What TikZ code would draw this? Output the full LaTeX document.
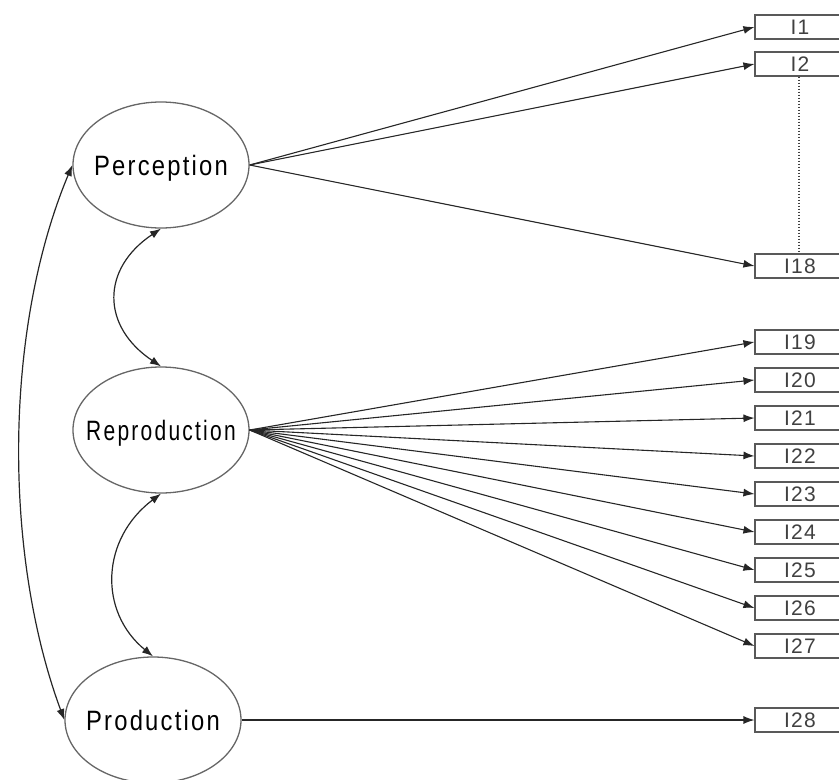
\documentclass[tikz,border=0pt]{standalone}
\usepackage{fontspec}
\setmainfont{Liberation Sans}
\newfontfamily\ellfont[FakeStretch=0.85,LetterSpace=8]{Liberation Sans}
\newfontfamily\ellfontn[FakeStretch=0.75,LetterSpace=8]{Liberation Sans}
\newfontfamily\boxfont[LetterSpace=6]{Liberation Sans}
\usetikzlibrary{arrows.meta,shapes.geometric}
\begin{document}
\begin{tikzpicture}[x=1pt,y=-1pt,
  latent/.style={ellipse, draw=black!60, line width=1.3pt, minimum width=176pt, minimum height=126pt,
    inner sep=0pt, text depth=0pt, text=black, font=\ellfont\fontsize{28}{28}\selectfont},
  item/.style={rectangle, draw=black!65, line width=1.1pt, minimum width=90pt, minimum height=24pt,
    inner sep=0pt, text depth=0pt, text=black!75, font=\boxfont\fontsize{21}{21}\selectfont},
  reg/.style={draw=black!85, line width=1.1pt, -{Latex[length=11pt,width=8pt]}},
  covar/.style={draw=black!85, line width=1.2pt, {Latex[length=11pt,width=8pt]}-{Latex[length=11pt,width=8pt]}},
  dotline/.style={draw=black!75, line width=1.1pt, dash pattern=on 1.5pt off 1.5pt}
]
\useasboundingbox (0,0) rectangle (839,780);
\clip (0,0) rectangle (839,780);

% latent variables
\node[latent] (P) at (161,165) {\makebox[0pt]{Perception}};
\node[latent, font=\ellfontn\fontsize{28}{28}\selectfont] (R) at (161,430) {\makebox[0pt]{Reproduction}};
\node[latent] (D) at (153,720) {\makebox[0pt]{Production}};

% items
\node[item] (I1)  at (800,27)  {I1};
\node[item] (I2)  at (800,64)  {I2};
\node[item] (I18) at (800,266) {I18};
\node[item] (I19) at (800,342) {I19};
\node[item] (I20) at (800,380) {I20};
\node[item] (I21) at (800,418) {I21};
\node[item] (I22) at (800,456) {I22};
\node[item] (I23) at (800,494) {I23};
\node[item] (I24) at (800,532) {I24};
\node[item] (I25) at (800,570) {I25};
\node[item] (I26) at (800,608) {I26};
\node[item] (I27) at (800,646) {I27};
\node[item] (I28) at (800,720) {I28};

% dotted link between I2 and I18
\coordinate (dTop) at ([xshift=-1pt]I2.south);
\coordinate (dBot) at ([xshift=-1pt]I18.north);
\draw[dotline] (dTop) -- (dBot);

% loadings
\foreach \i in {I1,I2,I18} \draw[reg] (P.east) -- (\i.west);
\foreach \i in {I19,I20,I21,I22,I23,I24,I25,I26,I27} \draw[reg] (R.east) -- (\i.west);
\draw[reg] (D.east) -- (I28.west);

% covariances
\draw[covar] (P.south) .. controls +(-60,40) and +(-60,-40) .. (R.north);
\draw[covar] (R.south) .. controls +(-60,45) and +(-55,-45) .. (D.north);
\draw[covar] (P.west) .. controls +(-69,165) and +(-61,-165) .. (D.west);
\end{tikzpicture}
\end{document}
